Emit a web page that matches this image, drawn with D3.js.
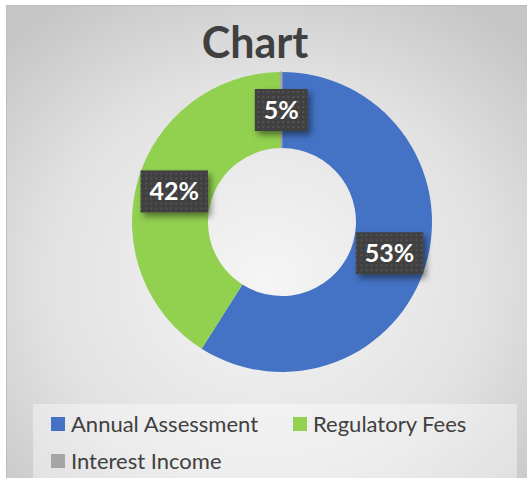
<!DOCTYPE html>
<html>
<head>
<meta charset="utf-8">
<script src="https://cdn.jsdelivr.net/npm/d3@7"></script>
<style>
  body { margin: 0; background: #fff; }
  text { font-family: Lato, "Open Sans", sans-serif; }
</style>
</head>
<body>
<div id="chart"></div>
<script>
// chart data
var categories = ["Annual Assessment", "Regulatory Fees", "Interest Income"];
var values = [59, 40.8, 0.2];
var labels = ["53%", "42%", "5%"];
var colors = ["#4472C4", "#92D050", "#A5A5A5"];
var title = "Chart";

var W = 527, H = 478;
var cx = 282, cy = 222, outerR = 150, innerR = 74;

var svg = d3.select("#chart")
  .append("svg")
    .attr("width", W)
    .attr("height", H);

var defs = svg.append("defs");

// background gradient
var grad = defs.append("radialGradient")
    .attr("id", "bg")
    .attr("cx", "50%").attr("cy", "58%").attr("r", "70%");
grad.append("stop").attr("offset", "0%").attr("stop-color", "#f5f5f5");
grad.append("stop").attr("offset", "60%").attr("stop-color", "#e2e2e2");
grad.append("stop").attr("offset", "100%").attr("stop-color", "#c6c6c6");

// dotted fill for label boxes
var pat = defs.append("pattern")
    .attr("id", "dots")
    .attr("patternUnits", "userSpaceOnUse")
    .attr("width", 5).attr("height", 5);
pat.append("rect").attr("width", 5).attr("height", 5).attr("fill", "#404040");
pat.append("rect").attr("x", 1).attr("y", 1).attr("width", 2).attr("height", 2).attr("fill", "#525252");

var shadow = defs.append("filter")
    .attr("id", "shadow")
    .attr("x", "-30%").attr("y", "-30%").attr("width", "170%").attr("height", "170%");
shadow.append("feDropShadow")
    .attr("dx", 3).attr("dy", 4)
    .attr("stdDeviation", 3)
    .attr("flood-color", "#000")
    .attr("flood-opacity", 0.45);

// chart area
svg.append("rect")
    .attr("x", 6).attr("y", 5)
    .attr("width", W - 6).attr("height", H - 5)
    .attr("fill", "url(#bg)");
svg.append("path")
    .attr("d", "M6.5," + H + "V5.5H" + W)
    .attr("fill", "none")
    .attr("stroke", "#bdbdbd");

// title
svg.append("text")
    .attr("x", 255)
    .attr("y", 58)
    .attr("text-anchor", "middle")
    .attr("font-size", 43)
    .attr("font-weight", "bold")
    .attr("fill", "#404040")
    .text(title);

// donut
var pie = d3.pie().sort(null).value(function(d) { return d; });
var arcs = pie(values);
var arc = d3.arc().innerRadius(innerR).outerRadius(outerR);

var g = svg.append("g")
    .attr("transform", "translate(" + cx + "," + cy + ")");

g.selectAll("path")
  .data(arcs)
  .enter()
  .append("path")
    .attr("d", arc)
    .attr("fill", function(d, i) { return colors[i]; })
    .attr("stroke", function(d, i) { return i == 2 ? colors[i] : "none"; })
    .attr("stroke-width", 1);

// data labels
var lab = g.selectAll(".lab")
  .data(arcs)
  .enter()
  .append("g")
    .attr("class", "lab")
    .attr("transform", function(d) {
      var c = arc.centroid(d);
      return "translate(" + c[0] + "," + c[1] + ")";
    });

lab.append("text")
    .attr("text-anchor", "middle")
    .attr("dy", "0.36em")
    .attr("font-size", 25)
    .attr("font-weight", "bold")
    .attr("fill", "#fff")
    .text(function(d, i) { return labels[i]; })
    .each(function() {
      var b = this.getBBox();
      d3.select(this.parentNode).insert("rect", "text")
        .attr("x", b.x - 9)
        .attr("y", -21)
        .attr("width", b.width + 18)
        .attr("height", 42)
        .attr("fill", "url(#dots)")
        .attr("filter", "url(#shadow)");
    });

// legend
svg.append("rect")
    .attr("x", 33).attr("y", 404)
    .attr("width", 484).attr("height", H - 404)
    .attr("fill", "#fff")
    .attr("fill-opacity", 0.4);

var legendPos = [[51, 424], [293, 424], [51, 461]];

var leg = svg.selectAll(".leg")
  .data(categories)
  .enter()
  .append("g")
    .attr("class", "leg")
    .attr("transform", function(d, i) {
      return "translate(" + legendPos[i][0] + "," + legendPos[i][1] + ")";
    });

leg.append("rect")
    .attr("x", 0).attr("y", -7)
    .attr("width", 14).attr("height", 14)
    .attr("fill", function(d, i) { return colors[i]; });

leg.append("text")
    .attr("x", 20)
    .attr("dy", "0.36em")
    .attr("font-size", 22)
    .attr("fill", "#404040")
    .text(function(d) { return d; });
</script>
</body>
</html>
